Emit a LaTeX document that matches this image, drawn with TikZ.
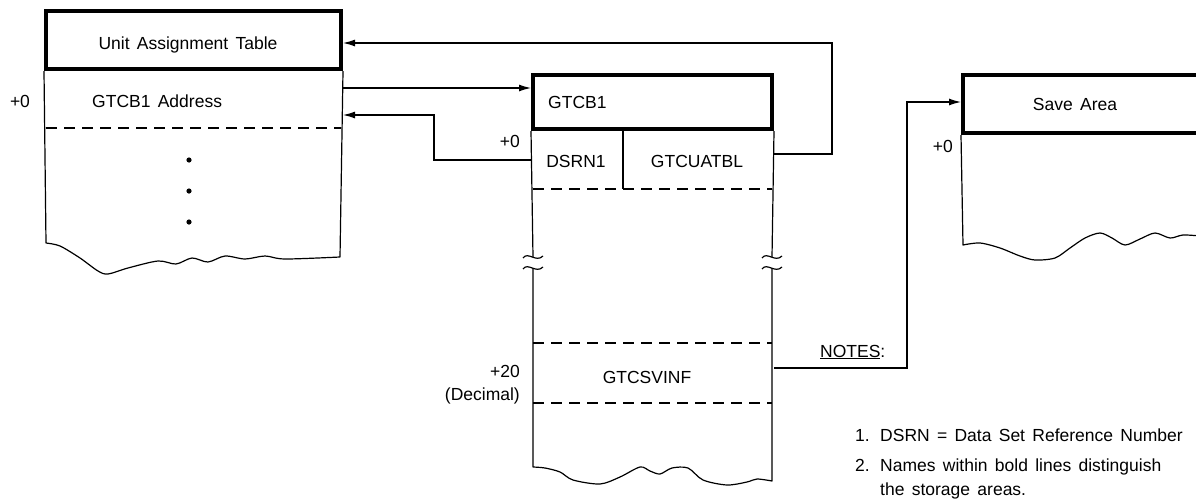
\documentclass[tikz,border=0pt]{standalone}
\usepackage{fontspec}
\setmainfont{Liberation Sans}[WordSpace=1.5]
\usetikzlibrary{arrows.meta}
\begin{document}
\begin{tikzpicture}[x=1pt,y=-1pt,
  txt/.style={font=\fontsize{17.5}{20}\selectfont, inner sep=0pt},
  hdr/.style={draw, line width=4pt, inner sep=0pt},
  ln/.style={line width=1.2pt},
  dsh/.style={line width=1.3pt, dash pattern=on 11pt off 7pt},
  arr/.style={ln, -{Latex[length=12pt,width=7pt]}},
  wave/.style={ln, line join=round}]
\useasboundingbox (0,0) rectangle (1196,501);
\begin{scope}
\clip (0,0) rectangle (1196,501);

% ---------- Unit Assignment Table ----------
\node[hdr, minimum width=295, minimum height=58] (uat) at (193.5,40) {};
\node[txt, anchor=base] (uattxt) at (188,49) {Unit Assignment Table};
\draw[wave] (uat.south west) -- (46,243)
  -- plot[smooth] coordinates {(46,243) (60,246) (80,258) (98,271) (108,274) (128,268) (158,261) (176,264) (192,258) (208,262) (225,256) (245,259) (265,256) (285,259) (340,257)}
  -- (uat.south east);
\node[txt, anchor=base] (uatoff) at (20,107) {+0};
\node[txt, anchor=base west] (addr) at (92,107) {GTCB1 Address};
\draw[dsh] (46,128) -- (341,128);
\foreach \yy/\nm in {160/d1,191/d2,222/d3}
  \fill (189,\yy) circle (2.6pt) coordinate (\nm);

% ---------- GTCB1 ----------
\node[hdr, minimum width=239, minimum height=54] (gtcb) at (652.5,102) {};
\node[txt, anchor=base west] (gtcbtxt) at (548,108) {GTCB1};
\node[txt, anchor=base east] (goff) at (520,147) {+0};
\node[txt, anchor=base] (dsrn) at (576,167) {DSRN1};
\node[txt, anchor=base] (uatbl) at (697,167) {GTCUATBL};
\draw[ln] (623,129) -- (623,189);
\draw[dsh] (533,189) -- (772,189);
\draw[ln] (gtcb.south west) -- (533,257);
\draw[ln] (gtcb.south east) -- (772,257);
\foreach \xx in {533,772}{
  \foreach \yy in {257,268}{
    \draw[ln] (\xx-10,\yy+1) .. controls (\xx-5,\yy-6) and (\xx+3,\yy+6) .. (\xx+10,\yy-1);
  }}
\draw[dsh] (533,343) -- (772,343);
\node[txt, anchor=base] (svinf) at (647,383) {GTCSVINF};
\draw[dsh] (533,403) -- (772,403);
\node[txt, anchor=base east] (g20) at (520,377) {+20};
\node[txt, anchor=base east] (gdec) at (520,400) {(Decimal)};
\draw[wave] (533,268) -- (533,467)
  -- plot[smooth] coordinates {(533,467) (545,468) (560,472) (573,480) (600,484) (620,477) (640,467) (650,471) (660,474) (672,468) (688,468) (703,480) (727,485) (747,482) (757,479) (772,481)}
  -- (772,268);

% ---------- Save Area ----------
\node[hdr, minimum width=260, minimum height=58] (save) at (1093,104) {};
\node[txt, anchor=base] (savetxt) at (1075,110) {Save Area};
\node[txt, anchor=base east] (soff) at (953,152) {+0};
\draw[wave] (save.south west) -- (963,245)
  -- plot[smooth] coordinates {(963,245) (980,243) (1000,248) (1020,256) (1035,260) (1055,258) (1070,248) (1085,238) (1100,233) (1112,238) (1125,245) (1140,239) (1155,233) (1170,238) (1183,235) (1200,236)};

% ---------- connectors ----------
\coordinate (c1) at (832,43);
\coordinate (c2) at (0,88);
\coordinate (c3) at (434,115);
\coordinate (c5) at (907,102);
\draw[arr] (gtcb.east |- uatbl) ++(0,-7) -| (c1) -- (uat.east |- c1);
\draw[arr] (uat.east |- c2) -- (gtcb.west |- c2);
\draw[arr] (gtcb.west |- c3) ++(0,45) -| (c3) -- (uat.east |- c3);
\draw[arr] (gtcb.east |- svinf) ++(0,-9) -| (c5) -- (save.west |- c5);

% ---------- notes ----------
\node[txt, anchor=base west] (notes) at (820,357) {\underline{NOTES}:};
\node[txt, anchor=base west] (n1) at (855,441) {1.};
\node[txt, anchor=base west] (n1t) at (880,441) {DSRN = Data Set Reference Number};
\node[txt, anchor=base west] (n2) at (855,471) {2.};
\node[txt, anchor=base west] (n2t) at (880,471) {Names within bold lines distinguish};
\node[txt, anchor=base west] (n2u) at (880,495) {the storage areas.};
\end{scope}
\end{tikzpicture}
\end{document}
